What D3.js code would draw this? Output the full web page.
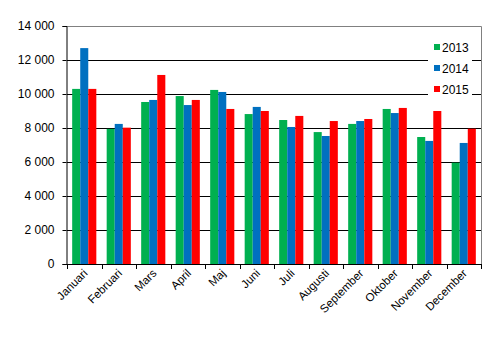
<!DOCTYPE html>
<html>
<head>
<meta charset="utf-8">
<script src="https://cdn.jsdelivr.net/npm/d3@7"></script>
<style>
  body { margin: 0; background: #fff; }
  text { font-family: "Liberation Sans", Arial, sans-serif; fill: #000; }
</style>
</head>
<body>
<svg id="chart" width="495" height="337"></svg>
<script>
// data
const months = ['Januari', 'Februari', 'Mars', 'April', 'Maj', 'Juni', 'Juli', 'Augusti', 'September', 'Oktober', 'November', 'December'];
const years = ['2013', '2014', '2015'];
const v2013 = [10300, 7950, 9530, 9880, 10240, 8820, 8470, 7760, 8240, 9120, 7470, 5960];
const v2014 = [12700, 8240, 9650, 9350, 10120, 9240, 8060, 7530, 8410, 8880, 7240, 7120];
const v2015 = [10300, 8020, 11120, 9650, 9120, 9000, 8710, 8410, 8530, 9180, 9000, 7960];
const yTicks = [0, 2000, 4000, 6000, 8000, 10000, 12000, 14000];
const colors = ['#00b050', '#0070c0', '#ff0000'];

const series = [v2013, v2014, v2015];
const svg = d3.select('#chart');
const mLeft = 67, mRight = 481, mTop = 26, mBottom = 264;

const x = d3.scaleBand().domain(months).range([mLeft, mRight]).paddingInner(0.3).paddingOuter(0.15);
const xs = d3.scaleBand().domain(years).range([0, x.bandwidth()]);
const y = d3.scaleLinear().domain([0, 14000]).range([mBottom, mTop]);
const fmt = d => d3.format(',')(d).replace(',', ' ');

// gridlines
svg.append('g').selectAll('line')
  .data(yTicks.filter(d => d > 0 && d < 14000))
  .enter().append('line')
  .attr('x1', mLeft).attr('x2', mRight)
  .attr('y1', d => y(d) + 0.5).attr('y2', d => y(d) + 0.5)
  .attr('stroke', '#000').attr('stroke-width', 1);

// plot border (top and right)
svg.append('path')
  .attr('d', `M${mLeft},${mTop + 0.5}H${mRight + 0.5}V${mBottom}`)
  .attr('fill', 'none').attr('stroke', '#808080');

// bars
months.forEach((m, i) => {
  series.forEach((s, k) => {
    svg.append('rect')
      .attr('x', x(m) + xs(years[k]))
      .attr('y', y(s[i]))
      .attr('width', xs.bandwidth())
      .attr('height', mBottom - y(s[i]))
      .attr('fill', colors[k]);
  });
});

// y axis
const ya = svg.append('g').attr('transform', `translate(${mLeft - 0.5},0)`)
  .call(d3.axisLeft(y).tickValues(yTicks).tickFormat(fmt).tickSize(4).tickPadding(8));
ya.selectAll('text').style('font-size', '12px').attr('font-family', null);
ya.selectAll('line, path').attr('stroke', '#000');

// x axis: ticks at category boundaries
const bounds = d3.range(months.length + 1).map(i => mLeft + i * (mRight - mLeft) / months.length);
const xa = svg.append('g');
xa.append('line').attr('x1', mLeft - 4).attr('x2', mRight + 1)
  .attr('y1', mBottom + 0.5).attr('y2', mBottom + 0.5).attr('stroke', '#000');
xa.selectAll('.tk').data(bounds).enter().append('line')
  .attr('x1', d => Math.round(d) + 0.5).attr('x2', d => Math.round(d) + 0.5)
  .attr('y1', mBottom).attr('y2', mBottom + 5).attr('stroke', '#000');
xa.selectAll('text').data(months).enter().append('text')
  .attr('transform', d => `translate(${x(d) + x.bandwidth() / 2 + 4},${mBottom + 10}) rotate(-45)`)
  .attr('text-anchor', 'end')
  .style('font-size', '11.5px')
  .text(d => d);

// legend
svg.append('rect').attr('x', 428).attr('y', 38).attr('width', 44).attr('height', 60).attr('fill', '#fff');
const lg = svg.append('g').selectAll('g').data(years).enter().append('g')
  .attr('transform', (d, i) => `translate(434,${48 + i * 21})`);
lg.append('rect').attr('x', 0).attr('y', -4).attr('width', 6).attr('height', 6)
  .attr('fill', (d, i) => colors[i]);
lg.append('text').attr('x', 8).attr('y', 4).style('font-size', '12px').text(d => d);
</script>
</body>
</html>
